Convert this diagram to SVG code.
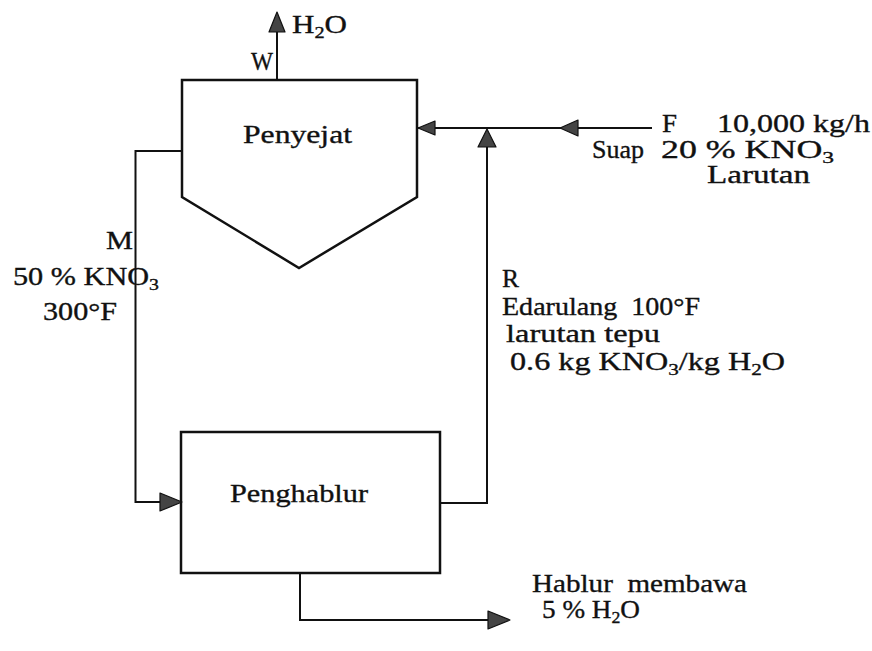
<svg xmlns="http://www.w3.org/2000/svg" width="872" height="651" viewBox="0 0 872 651">
<style>
  .ln { fill: none; stroke: #111; stroke-width: 2; }
  .box { fill: none; stroke: #111; stroke-width: 2.5; }
  .ah { fill: #444; stroke: #111; stroke-width: 1.2; stroke-linejoin: round; }
  .t { font-family: 'Liberation Serif', 'Times New Roman', Tinos, 'Nimbus Roman', serif; font-size: 26px; fill: #111; stroke: #111; stroke-width: 0.35; white-space: pre; }
  .sub { font-size: 17px; }
</style>
<rect width="872" height="651" fill="#fff"/>
<g id="penyejat">
  <polygon class="box" points="182,80 417,80 417,197 299,268 182,197"/>
  <text class="t" x="243" y="143" textLength="109" lengthAdjust="spacingAndGlyphs">Penyejat</text>
</g>
<g id="penghablur">
  <rect class="box" x="181" y="432" width="259" height="141"/>
  <text class="t" x="230" y="502" textLength="138" lengthAdjust="spacingAndGlyphs">Penghablur</text>
</g>
<g id="connectors">
  <path class="ln" d="M277,80 V30"/>
  <polygon class="ah" points="277,12 269,32 285,32"/>
  <path class="ln" d="M652,128 H418"/>
  <polygon class="ah" points="560,128 578,120 578,136"/>
  <polygon class="ah" points="418,128 435,121 435,135"/>
  <path class="ln" d="M182,151 H135.5 V502 H162"/>
  <polygon class="ah" points="182,502 160,493 160,511"/>
  <path class="ln" d="M440,503 H487 V146"/>
  <polygon class="ah" points="487,129 478,147 496,147"/>
  <path class="ln" d="M300,573 V620 H490"/>
  <polygon class="ah" points="510,620 488,611 488,629"/>
</g>
<g id="labels">
  <text class="t" x="292" y="33" textLength="55" lengthAdjust="spacingAndGlyphs">H<tspan class="sub" dy="5">2</tspan><tspan dy="-5">O</tspan></text>
  <text class="t" x="251" y="70" textLength="22" lengthAdjust="spacingAndGlyphs">W</text>
  <text class="t" x="662" y="132" textLength="15" lengthAdjust="spacingAndGlyphs">F</text>
  <text class="t" x="717" y="132" textLength="153" lengthAdjust="spacingAndGlyphs">10,000 kg/h</text>
  <text class="t" x="592" y="158" textLength="52" lengthAdjust="spacingAndGlyphs">Suap</text>
  <text class="t" x="661" y="158" textLength="173" lengthAdjust="spacingAndGlyphs">20 % KNO<tspan class="sub" dy="5">3</tspan></text>
  <text class="t" x="707" y="183" textLength="103" lengthAdjust="spacingAndGlyphs">Larutan</text>
  <text class="t" x="106" y="249" textLength="27" lengthAdjust="spacingAndGlyphs">M</text>
  <text class="t" x="13" y="285" textLength="146" lengthAdjust="spacingAndGlyphs">50 % KNO<tspan class="sub" dy="5">3</tspan></text>
  <text class="t" x="43" y="320" textLength="74" lengthAdjust="spacingAndGlyphs">300°F</text>
  <text class="t" x="502" y="287" textLength="17" lengthAdjust="spacingAndGlyphs">R</text>
  <text class="t" x="502" y="315" textLength="198" lengthAdjust="spacingAndGlyphs">Edarulang  100°F</text>
  <text class="t" x="506" y="342" textLength="154" lengthAdjust="spacingAndGlyphs">larutan tepu</text>
  <text class="t" x="510" y="370" textLength="275" lengthAdjust="spacingAndGlyphs">0.6 kg KNO<tspan class="sub" dy="5">3</tspan><tspan dy="-5">/kg H</tspan><tspan class="sub" dy="5">2</tspan><tspan dy="-5">O</tspan></text>
  <text class="t" x="532" y="592" textLength="215" lengthAdjust="spacingAndGlyphs">Hablur  membawa</text>
  <text class="t" x="542" y="618" textLength="98" lengthAdjust="spacingAndGlyphs">5 % H<tspan class="sub" dy="5">2</tspan><tspan dy="-5">O</tspan></text>
</g>
</svg>
